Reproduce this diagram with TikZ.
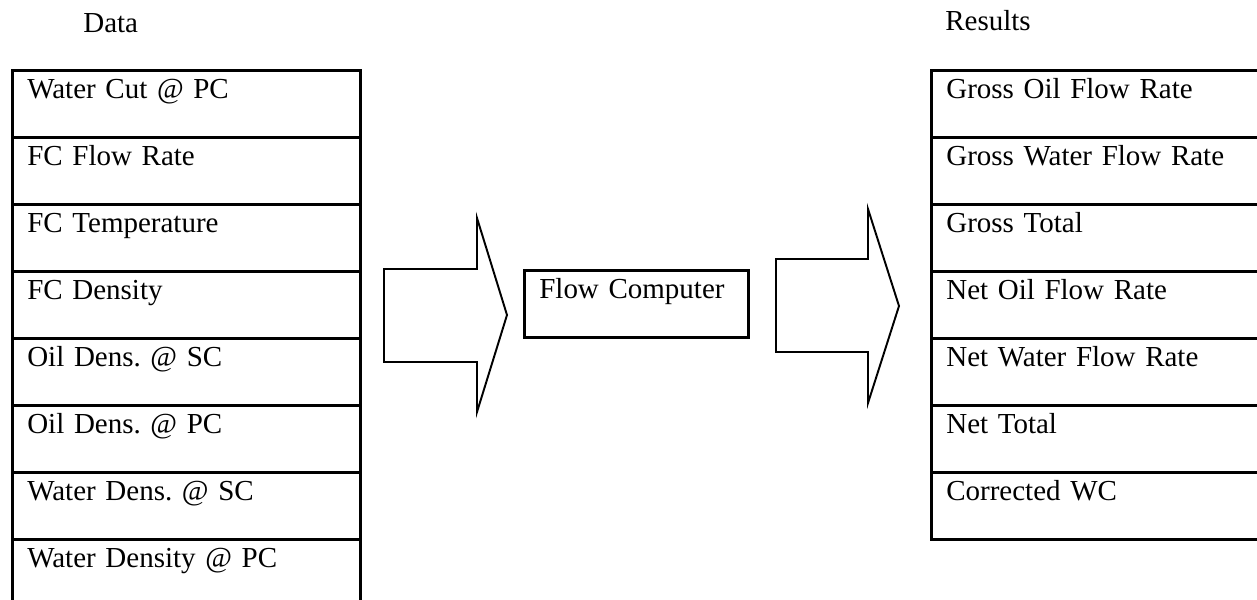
\documentclass[tikz,border=0pt]{standalone}
\usepackage{fontspec}
\setmainfont{Liberation Serif}
\usetikzlibrary{positioning}
\frenchspacing

\begin{document}
\begin{tikzpicture}[x=0.02cm,y=-0.02cm, every node/.style={font=\fontsize{16.5}{20}\selectfont},
  cell/.style={draw,line width=1.5pt,anchor=north west,align=left,inner xsep=0.3cm,inner ysep=0pt,
    text width=6.36cm,text height=0.56cm,text depth=0.78cm},
  blockarrow/.style={draw,line width=1.1pt,line join=miter}]
  \useasboundingbox (0,0) rectangle (1257,599);
  \clip (0,0) rectangle (1257,599);

  % headings
  \node[anchor=base west,inner sep=0pt] (data) at (83,32) {Data};
  \node[anchor=base west,inner sep=0pt] (results) at (945,30) {Results};

  % input table
  \foreach \t [count=\i] in {Water Cut @ PC, FC Flow Rate, FC Temperature, FC Density,
      Oil Dens. @ SC, Oil Dens. @ PC, Water Dens. @ SC, Water Density @ PC}
    \node[cell] (in\i) at (11,{69+67*(\i-1)}) {\t};

  % output table
  \foreach \t [count=\i] in {Gross Oil Flow Rate, Gross Water Flow Rate, Gross Total,
      Net Oil Flow Rate, Net Water Flow Rate, Net Total, Corrected WC}
    \node[cell] (out\i) at (930,{69+67*(\i-1)}) {\t};

  \node[cell,text width=3.88cm] (fc) at (523,269) {Flow Computer};

  % big arrows
  \draw[blockarrow] (384,269) -- (477,269) -- (477,218) -- (507,315) -- (477,412)
    -- (477,362) -- (384,362) -- cycle;
  \draw[blockarrow] (776,259) -- (868,259) -- (868,209) -- (899,306) -- (868,403)
    -- (868,352) -- (776,352) -- cycle;
\end{tikzpicture}
\end{document}
